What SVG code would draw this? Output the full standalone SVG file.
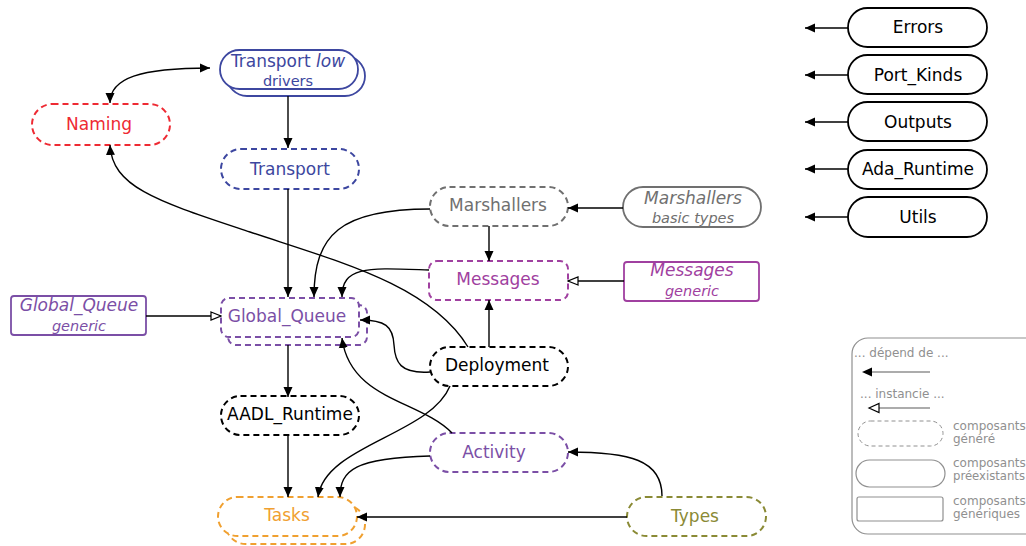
<svg xmlns="http://www.w3.org/2000/svg" width="1026" height="546" viewBox="0 0 1026 546">
<defs>
<marker id="a" viewBox="0 0 10 10" refX="10" refY="5" markerWidth="10" markerHeight="10" markerUnits="userSpaceOnUse" orient="auto-start-reverse"><path d="M0,0.5 L10,5 L0,9.5 Z" fill="#000"/></marker>
<marker id="h" viewBox="0 0 12 10" refX="11" refY="5" markerWidth="12" markerHeight="10" markerUnits="userSpaceOnUse" orient="auto"><path d="M1,1 L11,5 L1,9 Z" fill="#fff" stroke="#000" stroke-width="1.2"/></marker>
</defs>
<style>
text{font-family:"DejaVu Sans","Liberation Sans",sans-serif;text-anchor:middle}
.t{font-size:17px}
.s{font-size:14.5px}
.l{font-size:12px;fill:#909090;text-anchor:start}
.d{fill:#fff;stroke-width:2;stroke-dasharray:6 4}
.p{fill:#fff;stroke-width:1.8}
.c{fill:none;stroke:#000;stroke-width:1.4}
</style>
<rect width="1026" height="546" fill="#fff"/>
<g id="transport_low">
<rect class="p" x="227" y="56" width="138" height="40" rx="20" stroke="#3d47a0"/>
<rect class="p" x="220" y="50" width="138" height="39" rx="19.5" stroke="#3d47a0"/>
<text class="t" x="288" y="67" fill="#3d47a0">Transport <tspan font-style="italic">low</tspan></text>
<text class="s" x="288" y="86" fill="#3d47a0">drivers</text>
</g>
<g id="naming">
<rect class="d" x="32" y="104" width="138" height="41" rx="20.5" stroke="#ee2a33"/>
<text class="t" x="99" y="130" fill="#ee2a33">Naming</text>
</g>
<g id="transport">
<rect class="d" x="221" y="149" width="138" height="40" rx="20" stroke="#3d47a0"/>
<text class="t" x="290" y="175" fill="#3d47a0">Transport</text>
</g>
<g id="marshallers">
<rect class="d" x="430" y="187" width="138" height="39" rx="19.5" stroke="#707070"/>
<text class="t" x="498" y="211" fill="#707070">Marshallers</text>
</g>
<g id="marshallers_basic">
<rect class="p" x="623" y="187" width="138" height="40" rx="20" stroke="#707070"/>
<text class="t" x="693" y="204" fill="#707070" font-style="italic">Marshallers</text>
<text class="s" x="693" y="223" fill="#707070" font-style="italic">basic types</text>
</g>
<g id="messages">
<rect class="d" x="429" y="261" width="139" height="39" rx="8" stroke="#a040a0"/>
<text class="t" x="498" y="285" fill="#a040a0">Messages</text>
</g>
<g id="messages_generic">
<rect class="p" x="624" y="262" width="135" height="39" rx="3" stroke="#a040a0"/>
<text class="t" x="692" y="276" fill="#a040a0" font-style="italic">Messages</text>
<text class="s" x="692" y="296" fill="#a040a0" font-style="italic">generic</text>
</g>
<g id="global_queue_generic">
<rect class="p" x="11" y="296" width="135" height="39" rx="3" stroke="#7b4fa6"/>
<text class="t" x="79" y="311" fill="#7b4fa6" font-style="italic">Global_Queue</text>
<text class="s" x="79" y="331" fill="#7b4fa6" font-style="italic">generic</text>
</g>
<g id="global_queue">
<rect class="d" x="228" y="305" width="139" height="40" rx="8" stroke="#7b4fa6"/>
<rect class="d" x="221" y="298" width="138" height="39" rx="8" stroke="#7b4fa6"/>
<text class="t" x="287" y="322" fill="#7b4fa6">Global_Queue</text>
</g>
<g id="deployment">
<rect class="d" x="430" y="347" width="138" height="39" rx="19.5" stroke="#000"/>
<text class="t" x="497" y="371" fill="#000">Deployment</text>
</g>
<g id="aadl_runtime">
<rect class="d" x="221" y="396" width="138" height="39" rx="19.5" stroke="#000"/>
<text class="t" x="290" y="420" fill="#000">AADL_Runtime</text>
</g>
<g id="activity">
<rect class="d" x="430" y="433" width="138" height="39" rx="19.5" stroke="#7b4fa6"/>
<text class="t" x="494" y="458" fill="#7b4fa6">Activity</text>
</g>
<g id="tasks">
<rect class="d" x="226" y="505" width="139" height="39" rx="19.5" stroke="#f0a030"/>
<rect class="d" x="218" y="497" width="139" height="39" rx="19.5" stroke="#f0a030"/>
<text class="t" x="287" y="521" fill="#f0a030">Tasks</text>
</g>
<g id="types">
<rect class="d" x="627" y="497" width="139" height="39" rx="19.5" stroke="#8a8a35"/>
<text class="t" x="695" y="522" fill="#8a8a35">Types</text>
</g>
<g id="errors">
<rect class="p" x="848" y="8" width="139" height="39" rx="19.5" stroke="#000"/>
<text class="t" x="918" y="33">Errors</text>
</g>
<g id="port_kinds">
<rect class="p" x="848" y="55" width="139" height="39" rx="19.5" stroke="#000"/>
<text class="t" x="918" y="81">Port_Kinds</text>
</g>
<g id="outputs">
<rect class="p" x="848" y="102" width="139" height="39" rx="19.5" stroke="#000"/>
<text class="t" x="918" y="128">Outputs</text>
</g>
<g id="ada_runtime">
<rect class="p" x="848" y="150" width="139" height="39" rx="19.5" stroke="#000"/>
<text class="t" x="918" y="175">Ada_Runtime</text>
</g>
<g id="utils">
<rect class="p" x="848" y="197" width="139" height="40" rx="20" stroke="#000"/>
<text class="t" x="918" y="223">Utils</text>
</g>
<g id="connectors">
<path class="c" d="M110,103 C110,78 140,68 210,68" marker-start="url(#a)" marker-end="url(#a)"/>
<path class="c" d="M288,96 L288,148" marker-end="url(#a)"/>
<path class="c" d="M288,189 L288,297" marker-end="url(#a)"/>
<path class="c" d="M430,209 C340,209 314,235 314,297" marker-end="url(#a)"/>
<path class="c" d="M429,270 C370,268 342,265 342,297" marker-end="url(#a)"/>
<path class="c" d="M489,226 L489,261" marker-end="url(#a)"/>
<path class="c" d="M623,208 L568,208" marker-end="url(#a)"/>
<path class="c" d="M624,281 L568,281" marker-end="url(#h)"/>
<path class="c" d="M146,316 L221,316" marker-end="url(#h)"/>
<path class="c" d="M489,347 L489,300" marker-end="url(#a)"/>
<path class="c" d="M430,372 C400,374 395,362 394,345 C393,326 385,320 360,320" marker-end="url(#a)"/>
<path class="c" d="M468,347 C430,285 340,262 250,232 C160,202 112,188 110,145" marker-end="url(#a)"/>
<path class="c" d="M452,433 C420,400 350,400 342,338" marker-end="url(#a)"/>
<path class="c" d="M450,386 C430,435 325,445 318,497" marker-end="url(#a)"/>
<path class="c" d="M430,456 C355,458 340,470 340,497" marker-end="url(#a)"/>
<path class="c" d="M288,345 L288,397" marker-end="url(#a)"/>
<path class="c" d="M288,435 L288,497" marker-end="url(#a)"/>
<path class="c" d="M662,496 C662,460 630,452 568,452" marker-end="url(#a)"/>
<path class="c" d="M627,517 L357,517" marker-end="url(#a)"/>
<path class="c" d="M848,28 L805,28" marker-end="url(#a)"/>
<path class="c" d="M848,75 L805,75" marker-end="url(#a)"/>
<path class="c" d="M848,122 L805,122" marker-end="url(#a)"/>
<path class="c" d="M848,169 L805,169" marker-end="url(#a)"/>
<path class="c" d="M848,217 L805,217" marker-end="url(#a)"/>
</g>
<g id="legend">
<rect x="852" y="338" width="190" height="196" rx="16" fill="none" stroke="#909090" stroke-width="1.2"/>
<text class="l" x="854" y="357">... dépend de ...</text>
<path d="M930,372 L872,372" stroke="#909090" stroke-width="1.4"/>
<path d="M862,372 L872,367.5 L872,376.5 Z" fill="#000"/>
<text class="l" x="860" y="398">... instancie ...</text>
<path d="M930,408 L879,408" stroke="#909090" stroke-width="1.4"/>
<path d="M869,408 L879,403.5 L879,412.5 Z" fill="#fff" stroke="#000" stroke-width="1.2"/>
<rect x="858" y="421" width="85" height="25" rx="12.5" fill="none" stroke="#909090" stroke-width="1" stroke-dasharray="4 3"/>
<text class="l" x="953" y="430">composants</text>
<text class="l" x="953" y="443">généré</text>
<rect x="856" y="460" width="89" height="27" rx="13.5" fill="none" stroke="#909090" stroke-width="1.2"/>
<text class="l" x="953" y="467">composants</text>
<text class="l" x="953" y="480" textLength="72" lengthAdjust="spacingAndGlyphs">préexistants</text>
<rect x="857" y="497" width="86" height="24" rx="2" fill="none" stroke="#909090" stroke-width="1.2"/>
<text class="l" x="953" y="505">composants</text>
<text class="l" x="953" y="518">génériques</text>
</g>
</svg>
